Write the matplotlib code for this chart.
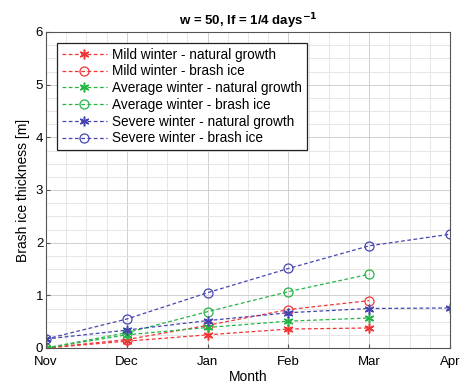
import matplotlib.pyplot as plt
import numpy as np
from matplotlib.ticker import MultipleLocator

plt.rcParams['font.family'] = ['Liberation Sans', 'DejaVu Sans']

months = ['Nov', 'Dec', 'Jan', 'Feb', 'Mar', 'Apr']

# epaisseur en m, de novembre a mars (ou avril)
mild_natural = [0.0, 0.13, 0.25, 0.36, 0.38]
mild_brash = [0.0, 0.16, 0.43, 0.73, 0.90]
avg_natural = [0.0, 0.25, 0.39, 0.51, 0.57]
avg_brash = [0.0, 0.29, 0.69, 1.07, 1.40]
severe_natural = [0.17, 0.34, 0.52, 0.67, 0.75, 0.76]
severe_brash = [0.17, 0.55, 1.05, 1.51, 1.94, 2.16]

red = '#f03535'
green = '#25b545'
blue = '#4545b0'

fig = plt.figure(figsize=(4.73, 3.83), dpi=100)
ax = fig.add_axes([46/473, 1 - 348/383, (450-46)/473, (348-32)/383])

series = [
    (mild_natural, red, '*', 'Mild winter - natural growth'),
    (mild_brash, red, 'o', 'Mild winter - brash ice'),
    (avg_natural, green, '*', 'Average winter - natural growth'),
    (avg_brash, green, 'o', 'Average winter - brash ice'),
    (severe_natural, blue, '*', 'Severe winter - natural growth'),
    (severe_brash, blue, 'o', 'Severe winter - brash ice'),
]
for y, c, m, lab in series:
    x = np.arange(len(y))
    if m == '*':
        # asterisque facon matlab
        ax.plot(x, y, linestyle='--', color=c, marker=(6, 2, 0), markersize=7,
                markeredgewidth=1.1, linewidth=0.9, label=lab, dashes=(3, 2))
    else:
        ax.plot(x, y, linestyle='--', color=c, marker='o', markersize=6.5,
                markerfacecolor='none', markeredgewidth=0.9,
                linewidth=0.9, label=lab, dashes=(3, 2))

ax.set_xlim(0, 5)
ax.set_ylim(0, 6)
ax.set_xticks(range(6))
ax.set_xticklabels(months)
ax.set_yticks(range(7))
ax.xaxis.set_minor_locator(MultipleLocator(0.25))
ax.yaxis.set_minor_locator(MultipleLocator(0.25))
ax.grid(True, which='major', color='#d0d0d0', linewidth=0.7)
ax.grid(True, which='minor', color='#e2e2e2', linewidth=0.6)
ax.set_axisbelow(True)
ax.tick_params(which='minor', length=0)
ax.tick_params(which='major', direction='in', length=3, labelsize=9.5, color='#555555')
ax.tick_params(axis='y', pad=2)
ax.tick_params(axis='x', pad=6)
for s in ax.spines.values():
    s.set_color('#555555')
    s.set_linewidth(0.8)

ax.set_title(r'w = 50, lf = 1/4 days$^{\mathbf{-1}}$', fontsize=9.5, fontweight='bold', pad=5)
ax.set_xlabel('Month', fontsize=10, labelpad=1)
ax.set_ylabel('Brash ice thickness [m]', fontsize=10, labelpad=4)

leg = ax.legend(loc='upper left', fontsize=9.8, frameon=True, fancybox=False,
                edgecolor='#222222', framealpha=1, borderaxespad=0.8,
                handlelength=3.3, handletextpad=0.4, labelspacing=0.2, borderpad=0.35)
leg.get_frame().set_linewidth(0.9)

plt.savefig('out.png', dpi=100)
